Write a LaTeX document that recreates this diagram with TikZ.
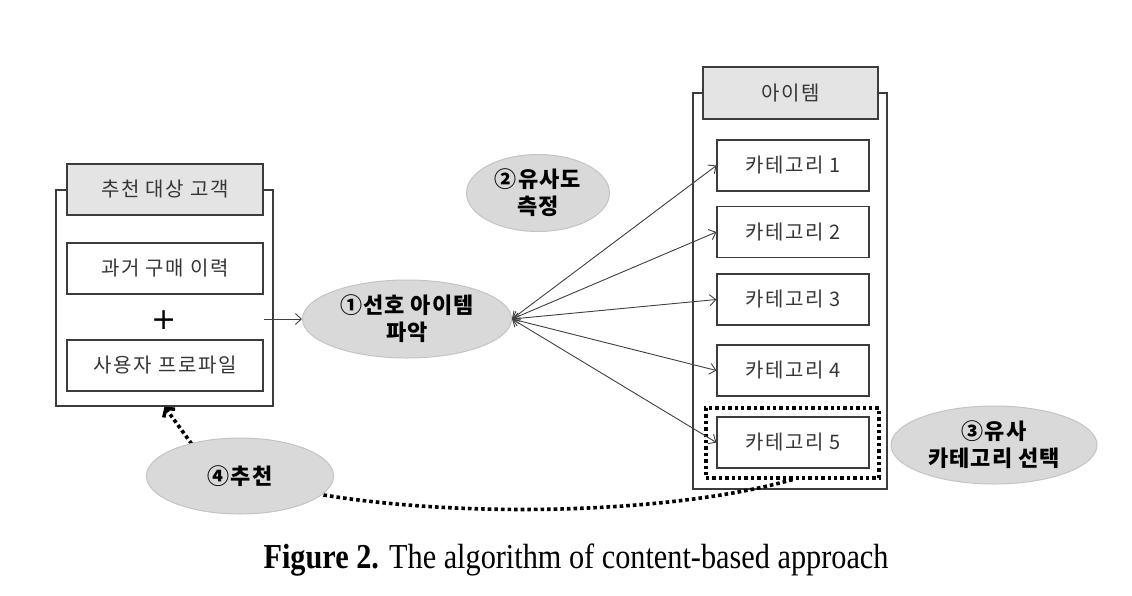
\documentclass[tikz,border=0pt]{standalone}
\usepackage{fontspec}
\setmainfont{Liberation Serif}
\newfontfamily\kr{Noto Sans CJK KR}
\newfontfamily\krsp{Noto Sans CJK KR}[LetterSpace=8]
\newfontfamily\krb{Noto Sans CJK KR}[LetterSpace=5]
\usetikzlibrary{shapes.geometric,arrows.meta,backgrounds,calc}
\definecolor{boxc}{HTML}{3C3C3C}
\definecolor{txtc}{HTML}{363636}
\definecolor{titlefill}{HTML}{E4E4E4}
\definecolor{ellfill}{HTML}{D9D9D9}
\definecolor{elldraw}{HTML}{C4C4C4}
\definecolor{connc}{HTML}{404040}
\tikzset{
  outerbox/.style={draw=boxc, line width=1.2pt, fill=white, inner sep=0pt},
  itembox/.style={draw=boxc, line width=1.2pt, fill=white, inner sep=0pt,
    font=\krsp\fontsize{20}{22}\selectfont, text=txtc},
  titlebox/.style={itembox, fill=titlefill},
  ell/.style={ellipse, fill=ellfill, draw=elldraw, line width=1pt, inner sep=0pt,
    align=center, font=\krb\bfseries\fontsize{22}{27}\selectfont, text=black},
  conn/.style={draw=connc, line width=0.9pt, -{Straight Barb[length=6pt,width=11pt]}},
  biconn/.style={draw=connc, line width=0.9pt,
    {Straight Barb[length=6pt,width=11pt]}-{Straight Barb[length=6pt,width=11pt]}},
  dotline/.style={draw=black, line width=3.6pt, dash pattern=on 3.6pt off 3pt},
  dotarrow/.style={dotline, -{Straight Barb[length=6pt,width=14pt,line width=3.5pt]}},
  dotbox/.style={draw=black, line width=3.2pt, dash pattern=on 3.4pt off 3pt, inner sep=0pt}
}
\begin{document}
\begin{tikzpicture}[x=1pt,y=-1pt]
\useasboundingbox (0,0) rectangle (1132,595);
\begin{scope}[on background layer]
\fill[white] (0,0) rectangle (1132,595);
\end{scope}
% left group
\node[outerbox, minimum width=217pt, minimum height=216pt] (cust) at (164.5,298) {};
\node[titlebox, minimum width=196pt, minimum height=51pt] (custT) at (165,189.5) {추천 대상 고객};
\node[itembox, minimum width=196pt, minimum height=51pt] (hist) at (165,268.5) {과거 구매 이력};
\node[font=\fontspec{DejaVu Sans}\fontsize{30}{30}\selectfont, inner sep=0pt] (plus) at (164,320) {+};
\node[itembox, minimum width=196pt, minimum height=51pt] (prof) at (165,365.5) {사용자 프로파일};
% right group
\node[outerbox, minimum width=194pt, minimum height=396pt] (items) at (790,291) {};
\node[titlebox, minimum width=175pt, minimum height=52pt] (itemsT) at (790.5,93) {아이템};
\node[itembox, minimum width=152pt, minimum height=51pt] (c1) at (793,165.5) {카테고리 1};
\node[itembox, minimum width=152pt, minimum height=51pt] (c2) at (793,232) {카테고리 2};
\node[itembox, minimum width=152pt, minimum height=51pt] (c3) at (793,299.5) {카테고리 3};
\node[itembox, minimum width=152pt, minimum height=51pt] (c4) at (793,370.5) {카테고리 4};
\node[itembox, minimum width=152pt, minimum height=51pt] (c5) at (793,442.5) {카테고리 5};
\node[dotbox, minimum width=173pt, minimum height=70pt] (sel) at (792.5,443) {};
% ellipses
\node[ell, minimum width=209pt, minimum height=78pt] (e1) at (407,319) {①선호 아이템\\파악};
\node[ell, minimum width=143pt, minimum height=77pt] (e2) at (538,193) {②유사도\\측정};
\node[ell, minimum width=206pt, minimum height=78pt] (e3) at (994,445) {③유사\\카테고리 선택};
% dotted return path (behind ellipse 4)
\draw[dotline] (sel.south) .. controls (650,520) and (380,520) .. (240,476);
\draw[dotarrow] (215,476) -- (cust.south);
\node[ell, minimum width=187pt, minimum height=76pt] (e4) at (240,476) {④추천};
% connectors
\draw[conn] (hist.east |- e1.west) -- (e1.west);
\foreach \c in {c1,c2,c3,c4,c5} \draw[biconn] (e1.east) -- (\c.west);
% caption
\node[inner sep=0pt, anchor=base] (cap) at (576,568)
  {\fontsize{35}{40}\selectfont\scalebox{0.865}[1]{\textbf{Figure 2.} The algorithm of content-based approach}};
\end{tikzpicture}
\end{document}
